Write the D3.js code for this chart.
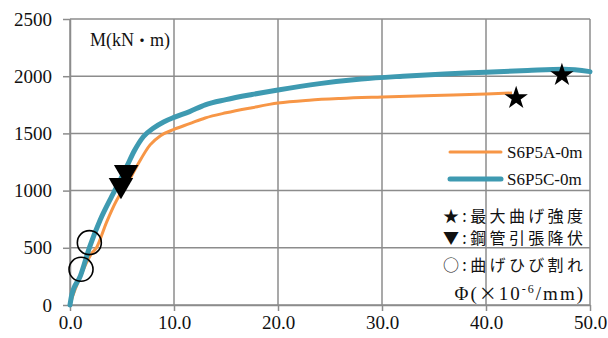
<!DOCTYPE html>
<html>
<head>
<meta charset="utf-8">
<script src="https://cdn.jsdelivr.net/npm/d3@7"></script>
<style>
  body { margin: 0; background: #fff; }
  text { font-family: "Liberation Serif", serif; fill: #111; }
  .jp { font-family: "Noto Sans CJK JP", sans-serif; }
</style>
</head>
<body>
<svg id="chart" width="608" height="338"></svg>
<script>
// Series data
const phiA = [0, 0.2, 1.0, 2.0, 2.6, 3.5, 4.5, 5.5, 6.4, 7.7, 8.7, 10.0, 11.5, 13.0, 15.0, 17.5, 20.0, 23.0, 26.0, 30.0, 35.0, 40.0, 42.5];
const momA = [0, 60, 250, 440, 510, 720, 918, 1060, 1209, 1400, 1480, 1535, 1585, 1635, 1680, 1725, 1765, 1790, 1805, 1818, 1832, 1845, 1853];

const phiC = [0, 0.15, 1.0, 1.9, 2.9, 4.0, 4.5, 5.45, 6.2, 7.05, 8.0, 9.0, 10.0, 11.5, 13.0, 15.0, 17.5, 20.0, 24.0, 28.0, 32.0, 36.0, 40.0, 44.0, 47.5, 50.0];
const momC = [0, 80, 255, 510, 743, 947, 1034, 1209, 1350, 1471, 1545, 1600, 1640, 1690, 1750, 1795, 1840, 1880, 1935, 1975, 2000, 2020, 2035, 2050, 2060, 2040];

// Marker points [phi, M]
const maxPoints = [[42.9, 1810], [47.3, 2010]];
const yieldPoints = [[4.9, 1049], [5.4, 1163]];
const crackPoints = [[1.06, 312], [1.86, 545]];

const seriesNames = ["S6P5A-0m", "S6P5C-0m"];
const xTicks = [0, 10, 20, 30, 40, 50];
const yTicks = [0, 500, 1000, 1500, 2000, 2500];
const notes = ["★:最大曲げ強度", "▼:鋼管引張降伏", "○:曲げひび割れ"];

const orange = "#f79646";
const teal = "#3e9ab1";
const gridColor = "#8c8c8c";
const serif = "'Liberation Serif', 'Times New Roman', serif";

const svg = d3.select("#chart");
const x = d3.scaleLinear().domain([0, 50]).range([70, 590]);
const y = d3.scaleLinear().domain([0, 2500]).range([305, 19]);

// Gridlines
svg.append("g")
  .selectAll("line")
  .data(xTicks)
  .join("line")
  .attr("x1", (d) => x(d))
  .attr("x2", (d) => x(d))
  .attr("y1", y(0))
  .attr("y2", y(2500))
  .attr("stroke", gridColor)
  .attr("stroke-width", 1.5);

svg.append("g")
  .selectAll("line")
  .data(yTicks)
  .join("line")
  .attr("x1", x(0))
  .attr("x2", x(50))
  .attr("y1", (d) => y(d))
  .attr("y2", (d) => y(d))
  .attr("stroke", gridColor)
  .attr("stroke-width", 1.5);

// Axes
const xAxis = svg.append("g")
  .attr("transform", `translate(0,${y(0)})`)
  .call(d3.axisBottom(x).tickValues(xTicks).tickFormat(d3.format(".1f"))
    .tickSize(6).tickSizeOuter(0).tickPadding(5));
const yAxis = svg.append("g")
  .attr("transform", `translate(${x(0)},0)`)
  .call(d3.axisLeft(y).tickValues(yTicks).tickFormat(d3.format("d"))
    .tickSize(7).tickSizeOuter(0).tickPadding(11));

[xAxis, yAxis].forEach((g) => {
  g.attr("font-family", serif).attr("font-size", 19);
  g.select(".domain").attr("stroke", gridColor).attr("stroke-width", 1.5);
  g.selectAll(".tick line").attr("stroke", gridColor).attr("stroke-width", 1.5);
  g.selectAll(".tick text")
    .attr("fill", "#111")
    .style("font-family", serif)
    .style("font-size", "19px");
});

// Curves
const line = d3.line()
  .x((d) => x(d[0]))
  .y((d) => y(d[1]))
  .curve(d3.curveMonotoneX);

svg.append("path")
  .datum(d3.zip(phiA, momA))
  .attr("d", line)
  .attr("fill", "none")
  .attr("stroke", orange)
  .attr("stroke-width", 3)
  .attr("stroke-linejoin", "round");

svg.append("path")
  .datum(d3.zip(phiC, momC))
  .attr("d", line)
  .attr("fill", "none")
  .attr("stroke", teal)
  .attr("stroke-width", 5)
  .attr("stroke-linejoin", "round")
  .attr("stroke-linecap", "round");

// Markers
svg.append("g")
  .selectAll("path")
  .data(maxPoints)
  .join("path")
  .attr("transform", (d) => `translate(${x(d[0])},${y(d[1])})`)
  .attr("d", d3.symbol(d3.symbolStar, 170))
  .attr("fill", "#000");

svg.append("g")
  .selectAll("path")
  .data(yieldPoints)
  .join("path")
  .attr("transform", (d) => `translate(${x(d[0])},${y(d[1])}) rotate(180)`)
  .attr("d", d3.symbol(d3.symbolTriangle, 260))
  .attr("fill", "#000");

svg.append("g")
  .selectAll("circle")
  .data(crackPoints)
  .join("circle")
  .attr("cx", (d) => x(d[0]))
  .attr("cy", (d) => y(d[1]))
  .attr("r", 12)
  .attr("fill", "none")
  .attr("stroke", "#000")
  .attr("stroke-width", 1.6);

// Unit label
const mLabel = svg.append("text")
  .attr("x", 90)
  .attr("y", 46)
  .style("font-family", serif)
  .style("font-size", "18px");
mLabel.append("tspan").text("M(kN");
mLabel.append("tspan").attr("class", "jp").style("font-size", "16px").text("・");
mLabel.append("tspan").text("m)");

// Legend
const legend = svg.append("g");
[orange, teal].forEach((c, i) => {
  const ly = 152 + i * 27;
  legend.append("line")
    .attr("x1", 450).attr("x2", 501)
    .attr("y1", ly).attr("y2", ly)
    .attr("stroke", c)
    .attr("stroke-width", i === 0 ? 3 : 5)
    .attr("stroke-linecap", "round");
  legend.append("text")
    .attr("x", 507)
    .attr("y", ly + 6)
    .style("font-family", serif)
    .style("font-size", "17px")
    .text(seriesNames[i]);
});

// Marker notes
svg.append("g")
  .selectAll("text")
  .data(notes)
  .join("text")
  .attr("class", "jp")
  .attr("x", 583)
  .attr("y", (d, i) => [222, 244, 271][i])
  .attr("text-anchor", "end")
  .style("font-size", "16px")
  .attr("textLength", 140)
  .text((d) => d);

const phiLabel = svg.append("text")
  .attr("x", 585)
  .attr("y", 300)
  .attr("text-anchor", "end")
  .style("font-family", serif)
  .style("font-size", "19px")
  .style("letter-spacing", "2px");
phiLabel.append("tspan").text("Φ(");
phiLabel.append("tspan").attr("class", "jp").style("font-size", "18px").text("×");
phiLabel.append("tspan").text("10");
phiLabel.append("tspan").attr("dy", -7).style("font-size", "12px").text("-6");
phiLabel.append("tspan").attr("dy", 7).text("/mm)");
</script>
</body>
</html>
